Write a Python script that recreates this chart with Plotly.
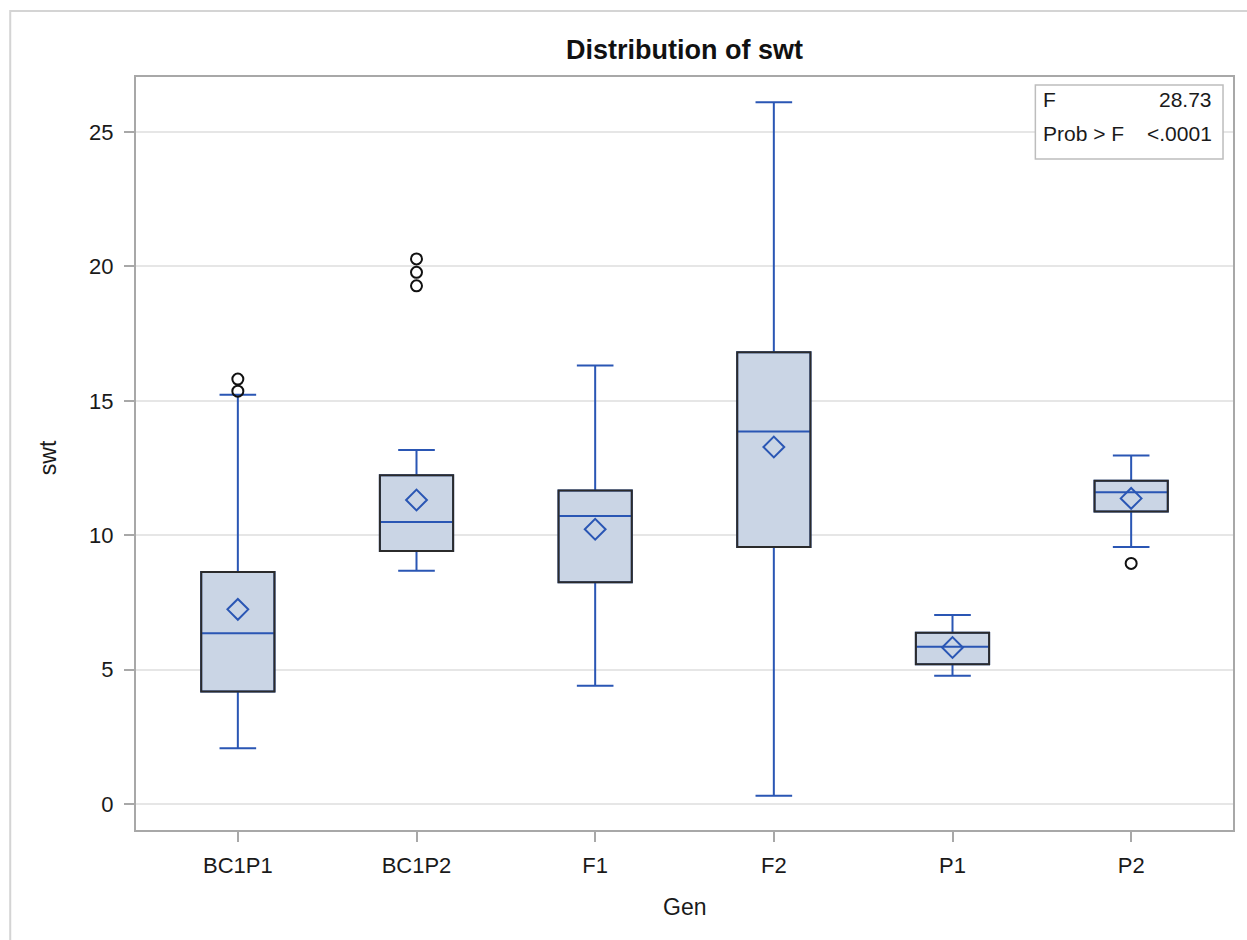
import plotly.graph_objects as go

# ---- data ----
categories = ["BC1P1", "BC1P2", "F1", "F2", "P1", "P2"]
q1 = [4.18, 9.41, 8.25, 9.56, 5.20, 10.88]
median = [6.35, 10.49, 10.71, 13.86, 5.85, 11.60]
q3 = [8.63, 12.23, 11.66, 16.81, 6.37, 12.03]
lower_whisker = [2.07, 8.68, 4.40, 0.30, 4.77, 9.56]
upper_whisker = [15.23, 13.17, 16.31, 26.11, 7.03, 12.97]
means = [7.24, 11.31, 10.22, 13.28, 5.82, 11.37]
outlier_gen = ["BC1P1", "BC1P1", "BC1P2", "BC1P2", "BC1P2", "P2"]
outlier_val = [15.81, 15.36, 20.28, 19.78, 19.28, 8.95]
f_value = "28.73"
prob_f = "<.0001"
y_ticks = [0, 5, 10, 15, 20, 25]

BLUE = "#2A56B4"
FILL = "#CAD5E5"
FONT = "Liberation Sans, Arial, sans-serif"
BOX_W = 0.41

fig = go.Figure()

# box with blue whiskers and median
fig.add_trace(go.Box(
    x=categories, q1=q1, median=median, q3=q3,
    lowerfence=lower_whisker, upperfence=upper_whisker,
    fillcolor=FILL, line=dict(color=BLUE, width=2),
    width=BOX_W, whiskerwidth=0.5, boxpoints=False,
    hoverinfo="skip", showlegend=False,
))
# means
fig.add_trace(go.Scatter(
    x=categories, y=means, mode="markers",
    marker=dict(symbol="diamond-open", size=16, color=BLUE, line=dict(width=2, color=BLUE)),
    showlegend=False,
))
# outliers
fig.add_trace(go.Scatter(
    x=outlier_gen, y=outlier_val, mode="markers",
    marker=dict(symbol="circle-open", size=11, color="#111111", line=dict(width=2, color="#111111")),
    showlegend=False,
))

# pixel helpers for paper coordinates (plot area 136..1235 x 77..830)
L, R, T, B = 136, 1235, 77, 830
def px(x):
    return (x - L) / (R - L)
def py(y):
    return (B - y) / (B - T)

shapes = [
    # outer light frame
    dict(type="rect", xref="paper", yref="paper", x0=px(10), y0=py(11), x1=px(1300), y1=py(1000),
         line=dict(color="#D4D4D4", width=2), fillcolor="rgba(0,0,0,0)", layer="below"),
    # inset stats box
    dict(type="rect", xref="paper", yref="paper", x0=px(1037), y0=py(159), x1=px(1225), y1=py(85),
         line=dict(color="#BDBDBD", width=1.5), fillcolor="white"),
]
# dark outline of each box body, taken from the quartile arrays
for i, (a, b) in enumerate(zip(q1, q3)):
    shapes.append(dict(type="rect", xref="x", yref="y",
                       x0=i - BOX_W / 2, x1=i + BOX_W / 2, y0=a, y1=b,
                       line=dict(color="#2b2b2b", width=2), fillcolor="rgba(0,0,0,0)"))

ann_font = dict(family=FONT, size=21, color="#1a1a1a")
annotations = [
    dict(text="F", xref="paper", yref="paper", x=px(1043), y=py(100), xanchor="left", yanchor="middle",
         showarrow=False, font=ann_font),
    dict(text=f_value, xref="paper", yref="paper", x=px(1216), y=py(100), xanchor="right", yanchor="middle",
         showarrow=False, font=ann_font),
    dict(text="Prob > F", xref="paper", yref="paper", x=px(1043), y=py(133), xanchor="left", yanchor="middle",
         showarrow=False, font=ann_font),
    dict(text=prob_f, xref="paper", yref="paper", x=px(1216), y=py(133), xanchor="right", yanchor="middle",
         showarrow=False, font=ann_font),
    dict(text="swt", xref="paper", yref="paper", x=px(48), y=py(458), xanchor="center", yanchor="middle",
         textangle=-90, showarrow=False, font=dict(family=FONT, size=23, color="#1a1a1a")),
    dict(text="Gen", xref="paper", yref="paper", x=px(686), y=py(907), xanchor="center", yanchor="middle",
         showarrow=False, font=dict(family=FONT, size=23, color="#1a1a1a")),
]

fig.update_layout(
    width=1247, height=940,
    margin=dict(l=L, r=1247 - R, t=T, b=940 - B),
    paper_bgcolor="white", plot_bgcolor="white",
    title=dict(text="<b>Distribution of swt</b>", x=0.5, xref="paper", y=1 - 50 / 940,
               yref="container", xanchor="center", yanchor="middle",
               font=dict(family=FONT, size=27, color="#111111")),
    shapes=shapes, annotations=annotations,
    font=dict(family=FONT),
)
fig.update_xaxes(
    type="category", categoryorder="array", categoryarray=categories,
    range=[-0.57, 5.57],
    showline=True, linecolor="#A8A8A8", linewidth=2, mirror=True,
    ticks="outside", ticklen=10, tickcolor="#A8A8A8", tickwidth=1.5,
    showgrid=False, zeroline=False,
    tickfont=dict(family=FONT, size=22, color="#1a1a1a"),
    ticklabelstandoff=5,
)
fig.update_yaxes(
    range=[-0.97, 27.05], tickvals=y_ticks,
    showline=True, linecolor="#A8A8A8", linewidth=2, mirror=True,
    ticks="outside", ticklen=10, tickcolor="#A8A8A8", tickwidth=1.5,
    showgrid=True, gridcolor="#E6E6E6", gridwidth=1.5, zeroline=False,
    tickfont=dict(family=FONT, size=22, color="#1a1a1a"),
    ticklabelstandoff=6,
)

fig.write_html("out.html")
